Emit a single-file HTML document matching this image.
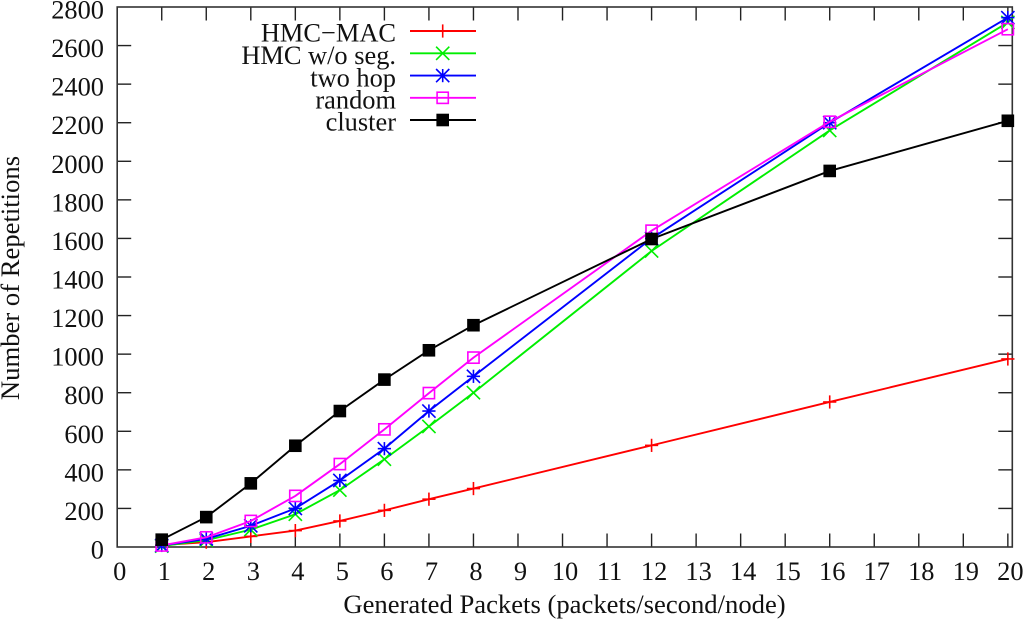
<!DOCTYPE html>
<html>
<head>
<meta charset="utf-8">
<title>Number of Repetitions vs Generated Packets</title>
<style>
html,body{margin:0;padding:0;background:#fff;width:1024px;height:620px;overflow:hidden}
svg{display:block}
text{font-family:"Liberation Serif",serif;font-size:26.4px;fill:#111}
text.axis-title{font-size:26.65px}
</style>
</head>
<body>
<svg id="chart" width="1024" height="620" viewBox="0 0 1024 620" xmlns="http://www.w3.org/2000/svg"></svg>
<script>
const xValues = [1, 2, 3, 4, 5, 6, 7, 8, 12, 16, 20];
const hmcMac = [10, 25, 55, 85, 135, 190, 248, 303, 527, 752, 975];
const hmcNoSeg = [5, 35, 90, 170, 295, 455, 625, 800, 1535, 2160, 2720];
const twoHop = [8, 42, 110, 200, 345, 510, 705, 885, 1600, 2200, 2745];
const randomSeries = [8, 50, 135, 265, 430, 610, 798, 982, 1640, 2205, 2685];
const cluster = [38, 155, 330, 525, 705, 868, 1020, 1150, 1597, 1950, 2210];
const xTicks = [0, 1, 2, 3, 4, 5, 6, 7, 8, 9, 10, 11, 12, 13, 14, 15, 16, 17, 18, 19, 20];
const yTicks = [0, 200, 400, 600, 800, 1000, 1200, 1400, 1600, 1800, 2000, 2200, 2400, 2600, 2800];
const seriesNames = ["HMC\u2212MAC", "HMC w/o seg.", "two hop", "random", "cluster"];
const seriesValues = [hmcMac, hmcNoSeg, twoHop, randomSeries, cluster];

const colors = ["#ff0000", "#00ee00", "#0000ff", "#ff00ff", "#000000"];
const markerKinds = ["plus", "cross", "star", "box", "filled"];
const left = 117.2, right = 1012.3, top0 = 7, bottom = 547;
const xMax = 20.1, yMax = 2800;
const sx = v => left + v / xMax * (right - left);
const sy = v => bottom - v / yMax * (bottom - top0);
const svg = document.getElementById('chart');
const NS = 'http://www.w3.org/2000/svg';

function mk(tag, attrs, parent) {
  const e = document.createElementNS(NS, tag);
  for (const k in attrs) e.setAttribute(k, attrs[k]);
  (parent || svg).appendChild(e);
  return e;
}
function marker(kind, x, y, color, parent) {
  const r = 6.6;
  const st = {stroke: color, 'stroke-width': 1.6, fill: 'none'};
  const seg = (x1, y1, x2, y2) => mk('line', Object.assign({x1, y1, x2, y2}, st), parent);
  if (kind === 'plus' || kind === 'star') {
    seg(x - r, y, x + r, y);
    seg(x, y - r, x, y + r);
  }
  if (kind === 'cross' || kind === 'star') {
    seg(x - r, y - r, x + r, y + r);
    seg(x - r, y + r, x + r, y - r);
  }
  if (kind === 'box') {
    mk('rect', Object.assign({x: x - 5.6, y: y - 5.6, width: 11.2, height: 11.2}, st), parent);
  }
  if (kind === 'filled') {
    mk('rect', {x: x - 6.3, y: y - 6.3, width: 12.6, height: 12.6, fill: color}, parent);
  }
}

const axisGroup = mk('g', {});



xTicks.forEach(t => {
  const x = sx(t);
  if (t > 0) {
    mk('line', {x1: x, y1: bottom, x2: x, y2: bottom - 13.5, stroke: '#222', 'stroke-width': 1.4}, axisGroup);
    mk('line', {x1: x, y1: top0, x2: x, y2: top0 + 13.5, stroke: '#222', 'stroke-width': 1.4}, axisGroup);
  }
  const lab = mk('text', {x: x + 2.5, y: 580, 'text-anchor': 'middle'});
  lab.textContent = t;
  
  
});
yTicks.forEach(t => {
  const y = sy(t);
  if (t > 0 && t < yMax) {
    mk('line', {x1: left, y1: y, x2: left + 14, y2: y, stroke: '#222', 'stroke-width': 1.4}, axisGroup);
    mk('line', {x1: right, y1: y, x2: right - 14, y2: y, stroke: '#222', 'stroke-width': 1.4}, axisGroup);
  }
  const lab = mk('text', {x: 104, y: y + 11.5, 'text-anchor': 'end'});
  lab.textContent = t;
  
  
});
const frame = mk('rect', {x: left, y: top0, width: right - left, height: bottom - top0, fill: 'none', stroke: '#333', 'stroke-width': 1.6}, axisGroup);



const xTitle = mk('text', {x: 564.5, y: 613, 'text-anchor': 'middle', class: 'axis-title'});
xTitle.textContent = 'Generated Packets (packets/second/node)';


const yTitle = mk('text', {x: 0, y: 0, 'text-anchor': 'middle', class: 'axis-title', transform: 'translate(19,278) rotate(-90)'});
yTitle.textContent = 'Number of Repetitions';



seriesValues.forEach((vals, i) => {
  const g = mk('g', {});
  
  
  const pts = vals.map((v, j) => sx(xValues[j]) + ',' + sy(v)).join(' ');
  mk('polyline', {points: pts, fill: 'none', stroke: colors[i], 'stroke-width': 1.9}, g);
  vals.forEach((v, j) => marker(markerKinds[i], sx(xValues[j]), sy(v), colors[i], g));
});

const legendY = [31, 53.3, 75.6, 97.8, 120];
const legend = mk('g', {});


seriesNames.forEach((name, i) => {
  const g = mk('g', {}, legend);
  
  
  const t = mk('text', {x: 396, y: legendY[i] + 10.7, 'text-anchor': 'end'}, g);
  t.textContent = name;
  mk('line', {x1: 410, y1: legendY[i], x2: 476, y2: legendY[i], stroke: colors[i], 'stroke-width': 1.9}, g);
  marker(markerKinds[i], 442.7, legendY[i], colors[i], g);
});
</script>
</body>
</html>
